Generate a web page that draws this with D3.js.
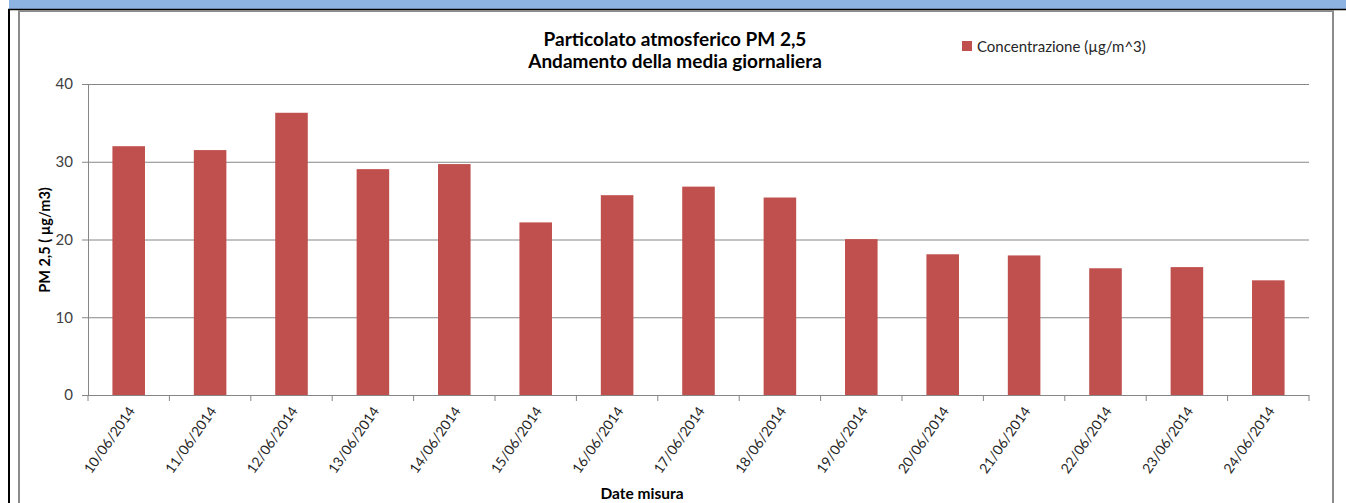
<!DOCTYPE html>
<html>
<head>
<meta charset="utf-8">
<script src="https://cdn.jsdelivr.net/npm/d3@7"></script>
<style>
  html, body { margin: 0; padding: 0; background: #fff; }
  svg { display: block; }
  text { font-family: Lato, "Noto Sans", sans-serif; }
</style>
</head>
<body>
<svg id="chart" width="1346" height="503"></svg>
<script>
const categories = ["10/06/2014","11/06/2014","12/06/2014","13/06/2014","14/06/2014","15/06/2014","16/06/2014","17/06/2014","18/06/2014","19/06/2014","20/06/2014","21/06/2014","22/06/2014","23/06/2014","24/06/2014"];
const values = [32.0, 31.5, 36.3, 29.05, 29.7, 22.2, 25.7, 26.8, 25.4, 20.05, 18.1, 17.95, 16.3, 16.45, 14.75];
const yTicks = [0, 10, 20, 30, 40];
const titleLines = ["Particolato  atmosferico PM 2,5", "Andamento della media giornaliera"];
const seriesName = "Concentrazione (µg/m^3)";
const yTitle = "PM 2,5 ( µg/m3)";
const xTitle = "Date misura";

const svg = d3.select("#chart");

// page decorations (frame)
svg.append("rect").attr("x", 9).attr("y", 0).attr("width", 1337).attr("height", 9).attr("fill", "#8DB3E2");
svg.append("line").attr("x1", 8).attr("x2", 1346).attr("y1", 9.5).attr("y2", 9.5).attr("stroke", "#000").attr("stroke-width", 1.5);
svg.append("line").attr("x1", 9).attr("x2", 9).attr("y1", 9).attr("y2", 503).attr("stroke", "#000").attr("stroke-width", 2);
svg.append("rect").attr("x", 19).attr("y", 11).attr("width", 1314).attr("height", 500)
  .attr("fill", "none").attr("stroke", "#8c8c8c").attr("stroke-width", 2);

const x = d3.scaleBand().domain(categories).range([88, 1309]).paddingInner(0.6).paddingOuter(0.3);
const y = d3.scaleLinear().domain([0, 40]).range([395, 84]);

// gridlines
svg.append("g").attr("transform", "translate(88,0)")
  .call(d3.axisLeft(y).tickValues(yTicks.filter(d => d > 0)).tickSize(-(1309 - 88)).tickFormat(""))
  .call(g => g.select(".domain").remove())
  .call(g => g.selectAll("line").attr("stroke", "#868686").attr("stroke-width", 1));

// bars
svg.append("g").selectAll("rect").data(values).join("rect")
  .attr("x", (d, i) => x(categories[i]))
  .attr("width", x.bandwidth())
  .attr("y", d => y(d))
  .attr("height", d => y(0) - y(d))
  .attr("fill", "#C0504D");

// y axis
svg.append("g").attr("transform", "translate(88,0)")
  .call(d3.axisLeft(y).tickValues(yTicks).tickSize(6).tickPadding(9))
  .call(g => g.select(".domain").attr("stroke", "#868686"))
  .call(g => g.selectAll("line").attr("stroke", "#868686"))
  .call(g => g.selectAll("text").attr("fill", "#404040").style("font-size", "15px").style("font-family", "Lato, sans-serif"));

// x axis line + boundary ticks
const step = x.step();
const bounds = categories.map(c => x(c) - (step - x.bandwidth()) / 2);
bounds.push(x(categories[categories.length - 1]) + x.bandwidth() + (step - x.bandwidth()) / 2);
const xAxisG = svg.append("g");
xAxisG.append("line").attr("x1", 88).attr("x2", 1309).attr("y1", y(0) + 0.5).attr("y2", y(0) + 0.5).attr("stroke", "#868686");
xAxisG.selectAll("line.tk").data(bounds).join("line").attr("class", "tk")
  .attr("x1", d => d).attr("x2", d => d).attr("y1", y(0)).attr("y2", y(0) + 6).attr("stroke", "#868686");
xAxisG.selectAll("text").data(categories).join("text")
  .attr("transform", d => `translate(${x(d) + x.bandwidth() / 2 + 7},${y(0) + 16}) rotate(-55)`)
  .attr("text-anchor", "end")
  .attr("fill", "#262626")
  .style("font-size", "14px")
  .text(d => d);

// titles
const title = svg.append("text").attr("text-anchor", "middle").attr("fill", "#000")
  .style("font-size", "19px").style("font-weight", "bold");
titleLines.forEach((t, i) => title.append("tspan").attr("x", 675).attr("y", 46 + i * 22).text(t));

// legend
svg.append("rect").attr("x", 962).attr("y", 41).attr("width", 10).attr("height", 10).attr("fill", "#C0504D");
svg.append("text").attr("x", 977).attr("y", 51.5).attr("fill", "#262626").style("font-size", "15px").text(seriesName);

// axis titles
svg.append("text").attr("transform", "translate(50,240) rotate(-90)").attr("text-anchor", "middle")
  .style("font-size", "14.5px").style("font-weight", "bold").attr("fill", "#000").text(yTitle);
svg.append("text").attr("x", 642).attr("y", 499).attr("text-anchor", "middle")
  .style("font-size", "15.5px").style("font-weight", "bold").attr("fill", "#000").text(xTitle);
</script>
</body>
</html>
